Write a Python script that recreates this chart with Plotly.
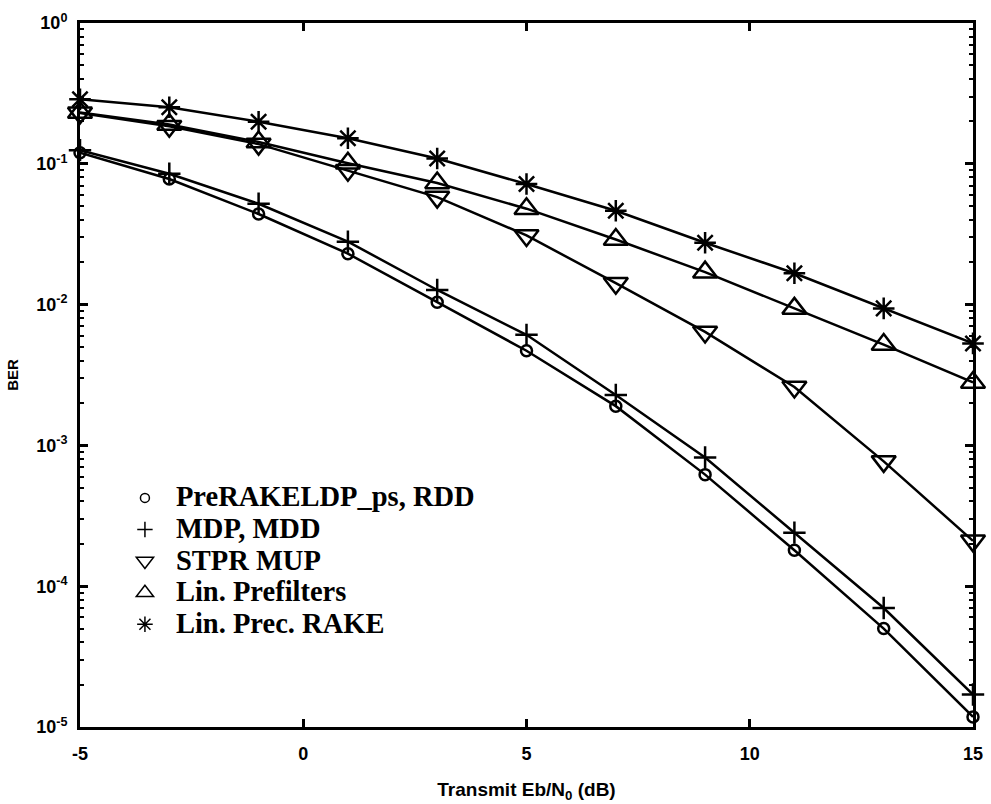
import plotly.graph_objects as go

# Transmit Eb/N0 (dB) sample points
ebn0_db = [-5, -3, -1, 1, 3, 5, 7, 9, 11, 13, 15]

# Bit error rate for each precoding / detection scheme
ber_prerake_rdd = [0.12, 0.078, 0.044, 0.023, 0.0104, 0.0047, 0.0019, 0.00062, 0.00018, 5.0e-5, 1.18e-5]
ber_mdp_mdd = [0.125, 0.085, 0.052, 0.028, 0.0127, 0.0061, 0.00228, 0.00082, 0.00024, 7.0e-5, 1.7e-5]
ber_stpr_mup = [0.23, 0.185, 0.138, 0.09, 0.058, 0.031, 0.0142, 0.0064, 0.0026, 0.00077, 0.00021]
ber_lin_prefilters = [0.231, 0.19, 0.143, 0.101, 0.073, 0.048, 0.029, 0.017, 0.0094, 0.0052, 0.0028]
ber_lin_prec_rake = [0.287, 0.252, 0.199, 0.152, 0.109, 0.0718, 0.0464, 0.0275, 0.0167, 0.0094, 0.0053]

series_names = [
    "PreRAKELDP_ps, RDD",
    "MDP, MDD",
    "STPR MUP",
    "Lin. Prefilters",
    "Lin. Prec. RAKE",
]

# Axis ticks
x_ticks = [-5, 0, 5, 10, 15]
x_tick_labels = ["-5", "0", "5", "10", "15"]
y_ticks = [1e-5, 1e-4, 1e-3, 1e-2, 1e-1, 1e0]
y_tick_labels = ["10<sup>-5</sup>", "10<sup>-4</sup>", "10<sup>-3</sup>",
                 "10<sup>-2</sup>", "10<sup>-1</sup>", "10<sup>0</sup>"]
y_minor_ticks = [m * 10.0 ** e for e in range(-5, 0) for m in range(2, 10)]

series_values = [ber_prerake_rdd, ber_mdp_mdd, ber_stpr_mup,
                 ber_lin_prefilters, ber_lin_prec_rake]
symbols = ["circle-open", "cross-thin-open", "triangle-down-open",
           "triangle-up-open", "asterisk-open"]
plot_sizes = [11, 16, 21, 21, 18]
legend_sizes = [9, 11, 15, 15, 13]

fig = go.Figure()

for name, vals, sym, sz in zip(series_names, series_values, symbols, plot_sizes):
    fig.add_trace(go.Scatter(
        x=ebn0_db, y=vals, mode="lines+markers", name=name,
        showlegend=False, cliponaxis=False,
        line=dict(color="black", width=2.5),
        marker=dict(symbol=sym, size=sz, color="black",
                    line=dict(color="black", width=2.5)),
    ))

# Marker-only legend entries; label text is set larger than the row height font
for name, sym, sz in zip(series_names, symbols, legend_sizes):
    fig.add_trace(go.Scatter(
        x=[None], y=[None], mode="markers",
        name='<span style="font-size:28.5px">' + name + "</span>",
        showlegend=True,
        marker=dict(symbol=sym, size=sz, color="black",
                    line=dict(color="black", width=1.5)),
    ))

axis_font = dict(family="Liberation Sans, Arial, sans-serif", size=18,
                 color="black", weight="bold")

fig.update_layout(
    width=991, height=804,
    margin=dict(l=80, r=18, t=23, b=77),
    paper_bgcolor="white", plot_bgcolor="white",
    showlegend=True,
    legend=dict(
        x=0.038, y=0.355, xanchor="left", yanchor="top",
        bgcolor="rgba(0,0,0,0)", borderwidth=0,
        font=dict(family="Liberation Serif, Times New Roman, serif",
                  size=22, color="black", weight="bold"),
        itemsizing="trace", itemwidth=52,
    ),
    xaxis=dict(
        range=[-5, 15], tickmode="array", tickvals=x_ticks,
        ticktext=x_tick_labels, automargin=False,
        ticks="inside", ticklen=8, tickwidth=3, tickcolor="black",
        showline=True, linewidth=3, linecolor="black", mirror="allticks",
        showgrid=False, zeroline=False,
        tickfont=axis_font, ticklabelstandoff=8,
        title=dict(text="Transmit Eb/N<sub>0</sub> (dB)",
                   font=dict(family="Liberation Sans, Arial, sans-serif",
                             size=19, color="black", weight="bold"),
                   standoff=21),
    ),
    yaxis=dict(
        type="log", range=[-5, 0], automargin=False,
        tickmode="array", tickvals=y_ticks, ticktext=y_tick_labels,
        ticks="inside", ticklen=8, tickwidth=3, tickcolor="black",
        showline=True, linewidth=3, linecolor="black", mirror="allticks",
        showgrid=False, zeroline=False,
        tickfont=axis_font, ticklabelstandoff=6,
        minor=dict(tickmode="array", tickvals=y_minor_ticks,
                   ticks="inside", ticklen=4, tickwidth=2,
                   tickcolor="black", showgrid=False),
        title=dict(text="BER",
                   font=dict(family="Liberation Sans, Arial, sans-serif",
                             size=15, color="black", weight="bold"),
                   standoff=14),
    ),
)

fig.write_html("out.html")
